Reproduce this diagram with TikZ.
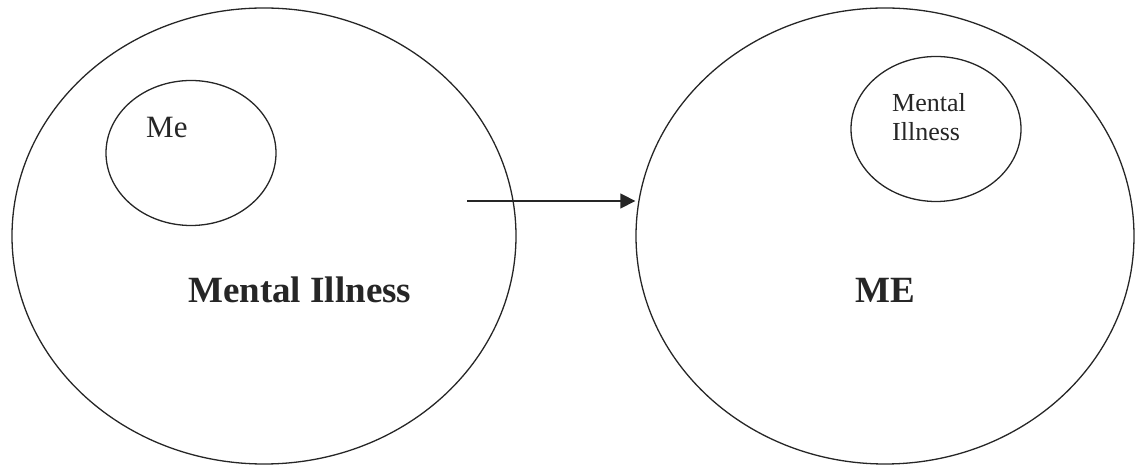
\documentclass[tikz,border=0pt]{standalone}
\usepackage{fontspec}
\setmainfont{Liberation Serif}
\usepackage{tikz}
\usetikzlibrary{shapes.geometric, arrows.meta, positioning, calc}
\tikzset{
    baseellipse/.style={ellipse, draw=black!85, line width=1.3pt, inner sep=0pt},
    outerellipse/.style={baseellipse, minimum height=456pt},
    innerellipse/.style={baseellipse, minimum width=170pt, minimum height=145pt},
    bigtext/.style={inner sep=0pt, font=\fontsize{37}{44}\selectfont\bfseries, text=black!85},
    smalltext/.style={inner sep=0pt, font=\fontsize{31}{36}\selectfont, text=black!85},
    tinytext/.style={inner sep=0pt, align=left, font=\fontsize{26}{29}\selectfont, text=black!85},
    arrow/.style={line width=1.3pt, -{Triangle[length=15pt, width=15pt]}, color=black!85}
}
\begin{document}
\begin{tikzpicture}[x=1pt, y=1pt]
    \useasboundingbox (0,0) rectangle (1135,465);

    \node (illness) [outerellipse, minimum width=504pt] at (264,229) {};
    \node (me) [innerellipse] at (191,312) {};
    \node (melabel) [smalltext, anchor=base west] at (146,327) {Me};
    \node (illnesslabel) [bigtext, anchor=base west] at (188,162) {Mental Illness};

    \node (self) [outerellipse, minimum width=498pt] at (885,229) {};
    \node (part) [innerellipse] at (936,336) {};
    \node (partlabel) [tinytext, anchor=base west] at (892,324) {Mental\\Illness};
    \node (selflabel) [bigtext, anchor=base west] at (855,162) {ME};

    \coordinate (start) at (467,264);
    \draw [arrow] (start) -- (start -| self.west);
\end{tikzpicture}
\end{document}
